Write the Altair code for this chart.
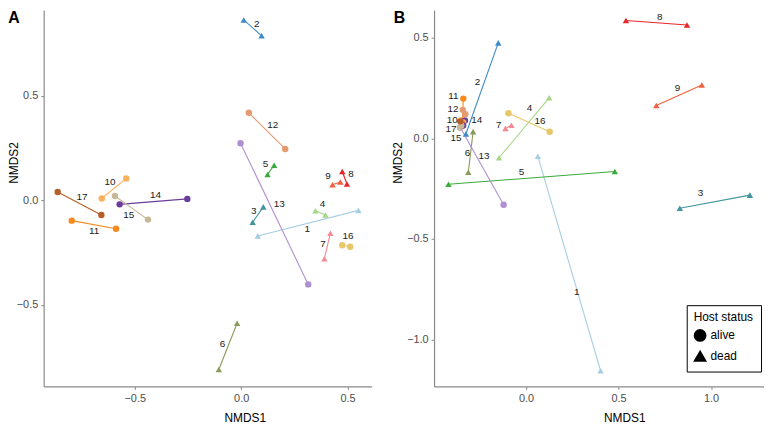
import altair as alt
import pandas as pd

# ---------------- data ----------------
ids = [str(i) for i in range(1, 18)]
status = ["dead"] * 9 + ["alive"] * 8
palette = ["#a6cee3", "#3b8bc8", "#42949e", "#a6d785", "#3aab3a", "#8a9a5b",
           "#f28b93", "#e8262a", "#f0603e", "#fbb25c", "#f58a1f", "#e59a72",
           "#b08fd0", "#6a3d9a", "#c9b897", "#e8c66a", "#b5602a"]

# Panel A
a_x1 = [0.078, 0.012, 0.104, 0.349, 0.124, -0.019, 0.419, 0.475, 0.429,
        -0.655, -0.796, 0.036, -0.003, -0.571, -0.593, 0.475, -0.862]
a_y1 = [-0.171, 0.862, -0.032, -0.051, 0.123, -0.589, -0.158, 0.137, 0.074,
        0.008, -0.098, 0.418, 0.272, -0.020, 0.020, -0.216, 0.039]
a_x2 = [0.551, 0.096, 0.054, 0.396, 0.155, -0.105, 0.391, 0.497, 0.466,
        -0.540, -0.588, 0.207, 0.315, -0.253, -0.438, 0.512, -0.657]
a_y2 = [-0.049, 0.786, -0.106, -0.071, 0.167, -0.810, -0.280, 0.077, 0.087,
        0.104, -0.137, 0.245, -0.403, 0.006, -0.093, -0.223, -0.071]
a_lx = [0.311, 0.073, 0.059, 0.382, 0.114, -0.088, 0.384, 0.516, 0.408,
        -0.616, -0.691, 0.148, 0.179, -0.403, -0.528, 0.502, -0.748]
a_ly = [-0.139, 0.844, -0.051, -0.019, 0.171, -0.687, -0.210, 0.123, 0.114,
        0.089, -0.150, 0.360, -0.018, 0.025, -0.073, -0.172, 0.013]

# Panel B
b_x1 = [0.064, -0.325, 0.831, -0.146, -0.419, -0.286, -0.111, 0.540, 0.704,
        -0.351, -0.339, -0.342, -0.355, -0.330, -0.357, -0.095, -0.346]
b_y1 = [-0.090, 0.021, -0.348, -0.097, -0.229, 0.033, 0.049, 0.585, 0.163,
        0.090, 0.197, 0.141, 0.053, 0.088, 0.053, 0.124, 0.070]
b_x2 = [0.403, -0.150, 1.210, 0.125, 0.480, -0.312, -0.079, 0.870, 0.950,
        -0.340, -0.345, -0.328, -0.121, -0.340, -0.350, 0.128, -0.355]
b_y2 = [-1.156, 0.474, -0.283, 0.201, -0.165, -0.169, 0.065, 0.563, 0.265,
        0.079, 0.073, 0.119, -0.331, 0.063, 0.063, 0.032, 0.084]
b_lx = [0.274, -0.262, 0.943, 0.019, -0.025, -0.316, -0.147, 0.722, 0.818,
        -0.399, -0.393, -0.394, -0.227, -0.266, -0.378, 0.076, -0.406]
b_ly = [-0.766, 0.281, -0.273, 0.149, -0.169, -0.075, 0.068, 0.603, 0.249,
        0.091, 0.209, 0.144, -0.086, 0.090, 0.001, 0.085, 0.045]

FONT = "Liberation Sans"


def panel(letter, x1, y1, x2, y2, lx, ly, xdom, ydom, xticks, yticks,
          xtitle_x, ytitle_x, tag_x, width, legend):
    seg = pd.DataFrame({"id": ids, "status": status, "x1": x1, "y1": y1,
                        "x2": x2, "y2": y2, "lx": lx, "ly": ly})
    pts = pd.concat([
        pd.DataFrame({"id": ids, "status": status, "x": x1, "y": y1}),
        pd.DataFrame({"id": ids, "status": status, "x": x2, "y": y2}),
    ], ignore_index=True)

    xs = alt.Scale(domain=xdom, nice=False, zero=False)
    ys = alt.Scale(domain=ydom, nice=False, zero=False)
    xax = alt.Axis(values=xticks, format=".1f", title="NMDS1", titleX=xtitle_x,
                   titleY=31, titleBaseline="middle")
    yax = alt.Axis(values=yticks, format=".1f", title="NMDS2", titleX=ytitle_x,
                   titleY=154, titleBaseline="middle")
    col = alt.Color("id:N", scale=alt.Scale(domain=ids, range=palette), legend=None)

    lines = alt.Chart(seg).mark_rule(strokeWidth=1.1).encode(
        x=alt.X("x1:Q", scale=xs, axis=xax),
        x2="x2:Q",
        y=alt.Y("y1:Q", scale=ys, axis=yax),
        y2="y2:Q",
        color=col,
    )
    if legend:
        leg = alt.Legend(title="Host status", orient="none", legendX=255, legendY=298,
                         strokeColor="black", fillColor="white", padding=7,
                         titleFontSize=12, titleFontWeight="normal", titleColor="black",
                         labelFontSize=12, labelColor="black", symbolSize=130,
                         symbolFillColor="black", symbolStrokeColor="black",
                         rowPadding=3, titleFont=FONT, labelFont=FONT)
    else:
        leg = None
    shape = alt.Shape("status:N", scale=alt.Scale(domain=["alive", "dead"],
                      range=["circle", "triangle-up"]), legend=leg)
    points = alt.Chart(pts).mark_point(filled=True, opacity=1, size=42).encode(
        x=alt.X("x:Q", scale=xs),
        y=alt.Y("y:Q", scale=ys),
        color=col,
        shape=shape,
    )
    labels = alt.Chart(seg).mark_text(fontSize=10, color="#1a1a1a", font=FONT).encode(
        x=alt.X("lx:Q", scale=xs),
        y=alt.Y("ly:Q", scale=ys),
        text="id:N",
    )
    tag = alt.Chart(alt.Data(values=[{"t": letter}])).mark_text(
        fontSize=16, fontWeight="bold", font=FONT, color="black", align="center",
        baseline="middle").encode(x=alt.value(tag_x), y=alt.value(8), text="t:N")
    return alt.layer(lines, points, labels, tag).properties(width=width, height=380)


pa = panel("A", a_x1, a_y1, a_x2, a_y2, a_lx, a_ly, [-0.928, 0.613], [-0.891, 0.910],
           [-0.5, 0.0, 0.5], [-0.5, 0.0, 0.5], 203, -30, -30, 331, False)
pb = panel("B", b_x1, b_y1, b_x2, b_y2, b_lx, b_ly, [-0.497, 1.286], [-1.234, 0.638],
           [0.0, 0.5, 1.0], [-1.0, -0.5, 0.0, 0.5], 192, -37, -35, 333, True)

chart = alt.hconcat(pa, pb, spacing=20).resolve_scale(
    x="independent", y="independent", color="independent", shape="independent"
).resolve_legend(shape="independent").properties(
    padding=0
).configure_view(stroke=None).configure_axis(
    grid=False, domainColor="#8a8a8a", tickColor="#8a8a8a", tickSize=3,
    labelColor="#4d4d4d", labelFontSize=11, labelFont=FONT, titleFont=FONT,
    titleFontSize=12, titleFontWeight="normal", titleColor="black", labelPadding=3,
    domainWidth=1.2
)

chart.save("out.html", embed_options={"renderer": "svg", "actions": False})
